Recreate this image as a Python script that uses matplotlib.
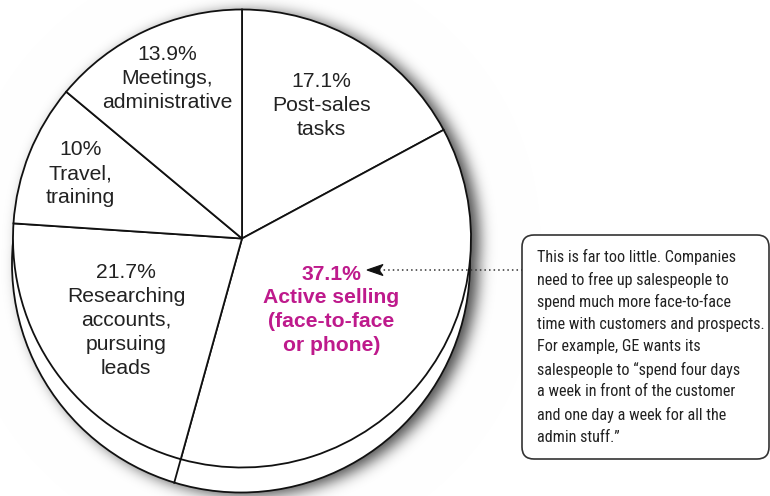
import math
import numpy as np
import matplotlib
matplotlib.use("Agg")
import matplotlib.pyplot as plt
from matplotlib.patches import Circle, FancyBboxPatch, Polygon
from matplotlib import font_manager

# ---------------- data ----------------
categories = ["Post-sales tasks", "Active selling (face-to-face or phone)",
              "Researching accounts, pursuing leads", "Travel, training",
              "Meetings, administrative"]
shares = [17.1, 37.1, 21.7, 10.0, 13.9]
label_lines = ["Post-sales\ntasks",
               "Active selling\n(face-to-face\nor phone)",
               "Researching\naccounts,\npursuing\nleads",
               "Travel,\ntraining",
               "Meetings,\nadministrative"]
callout_lines = ["This is far too little. Companies",
                 "need to free up salespeople to",
                 "spend much more face-to-face",
                 "time with customers and prospects.",
                 "For example, GE wants its",
                 "salespeople to \u201cspend four days",
                 "a week in front of the customer",
                 "and one day a week for all the",
                 "admin stuff.\u201d"]
highlight_index = 1

# ---------------- fonts ----------------
names = {f.name: f for f in font_manager.fontManager.ttflist}
narrow_family, narrow_stretch = None, "normal"
for cand in ["Liberation Sans Narrow", "Roboto Condensed", "Open Sans Condensed",
             "Noto Sans Condensed", "DejaVu Sans Condensed"]:
    if cand in names:
        narrow_family = cand
        break
if narrow_family is None:
    for f in font_manager.fontManager.ttflist:
        if f.name in ("DejaVu Sans", "Noto Sans", "Open Sans", "Roboto", "Inter") and \
                str(f.stretch) in ("condensed", "semi-condensed", "extra-condensed", "500", "300", "400") \
                and ("Condensed" in f.fname or "Narrow" in f.fname):
            narrow_family = f.name
            narrow_stretch = f.stretch
            break
if narrow_family is None:
    narrow_family = "Liberation Sans"

# ---------------- layout ----------------
W, H = 770, 496
fig = plt.figure(figsize=(W / 100, H / 100), dpi=100)
ax = fig.add_axes([0, 0, 1, 1])
ax.set_xlim(0, W)
ax.set_ylim(0, H)

cx, cy, R = 242.0, H - 238.5, 229.0      # top face
sx, sy = -1.0, -25.0                      # offset of the pie's bottom rim
bx, by = cx + sx, cy + sy

# shadow (blurred, offset to the right)
xs = np.arange(W) + 0.5
ys = np.arange(H) + 0.5
X, Y = np.meshgrid(xs, ys)
off_x, off_y, sigma = 8.0, -3.0, 7.5
d1 = np.hypot(X - (cx + off_x), Y - (cy + off_y)) - R
d2 = np.hypot(X - (bx + off_x), Y - (by + off_y)) - R
d = np.minimum(d1, d2)
erfc = np.frompyfunc(math.erfc, 1, 1)
blur = 0.5 * erfc(d / (math.sqrt(2) * sigma)).astype(float)
shade = 1 - 0.72 * blur
img = np.dstack([shade, shade, shade])
ax.imshow(img, extent=[0, W, 0, H], origin="lower", zorder=0, interpolation="bilinear")

# bottom rim of the pie
ax.add_patch(Circle((bx, by), R, facecolor="white", edgecolor="#111111", lw=1.3, zorder=1))

# pie top face
wedges, _ = ax.pie(shares, startangle=90, counterclock=False, center=(cx, cy), radius=R,
                   wedgeprops=dict(facecolor="white", edgecolor="#111111", linewidth=1.3))
for w in wedges:
    w.set_zorder(3)

# side edges where a slice boundary meets the visible rim
for w in wedges:
    ang = math.radians(w.theta1)
    ux, uy = math.cos(ang), math.sin(ang)
    px, py = cx + R * ux, cy + R * uy
    if py < cy - 30:
        t = 0.0
        while math.hypot(px + t * ux - bx, py + t * uy - by) < R and t < 60:
            t += 0.25
        ax.plot([px, px + t * ux], [py, py + t * uy], color="#111111", lw=1.3, zorder=2)

# labels
label_r = [0.675, 0.50, 0.62, 0.76, 0.77]
for i, w in enumerate(wedges):
    mid = math.radians((w.theta1 + w.theta2) / 2)
    lx = cx + R * label_r[i] * math.cos(mid)
    ly = cy + R * label_r[i] * math.sin(mid)
    txt = f"{shares[i]:g}%\n{label_lines[i]}"
    bold = i == highlight_index
    ax.text(lx, ly, txt, ha="center", va="center", fontsize=15.2,
            fontweight="bold" if bold else "normal",
            color="#BE1A8C" if bold else "#222222",
            family=["Liberation Sans", "DejaVu Sans"],
            linespacing=1.33, zorder=5)

# callout box
box_l, box_r, box_b, box_t = 522, 769, H - 459, H - 235
ax.add_patch(FancyBboxPatch((box_l, box_b), box_r - box_l, box_t - box_b,
                            boxstyle="round,pad=0,rounding_size=12",
                            facecolor="white", edgecolor="#333333", lw=1.2, zorder=4))
callout_texts = []
for k, line in enumerate(callout_lines):
    t = ax.text(537, H - (257 + k * 22.5), line, ha="left", va="center", fontsize=13.5,
                color="#222222", family=[narrow_family, "DejaVu Sans"],
                fontstretch=narrow_stretch, zorder=5)
    callout_texts.append(t)

# shrink the callout font until the widest line fits the box
fig.canvas.draw()
renderer = fig.canvas.get_renderer()
max_w = 228.0
widest = max(t.get_window_extent(renderer).width for t in callout_texts)
if widest > max_w:
    new_size = 13.5 * max_w / widest
    for t in callout_texts:
        t.set_fontsize(new_size)

# dotted arrow to the highlighted slice
arrow_y = H - 270
tip_x = 367
ax.plot([tip_x + 12, box_l], [arrow_y, arrow_y], color="#333333", lw=1.1,
        linestyle=(0, (1, 2)), zorder=5)
ax.add_patch(Polygon([(tip_x, arrow_y), (tip_x + 16, arrow_y + 5.5),
                      (tip_x + 12, arrow_y), (tip_x + 16, arrow_y - 5.5)],
                     closed=True, facecolor="#111111", edgecolor="#111111", lw=0.8, zorder=6))

ax.set_xlim(0, W)
ax.set_ylim(0, H)
ax.set_aspect("auto")
ax.axis("off")
fig.savefig("out.png", dpi=100, facecolor="white")
